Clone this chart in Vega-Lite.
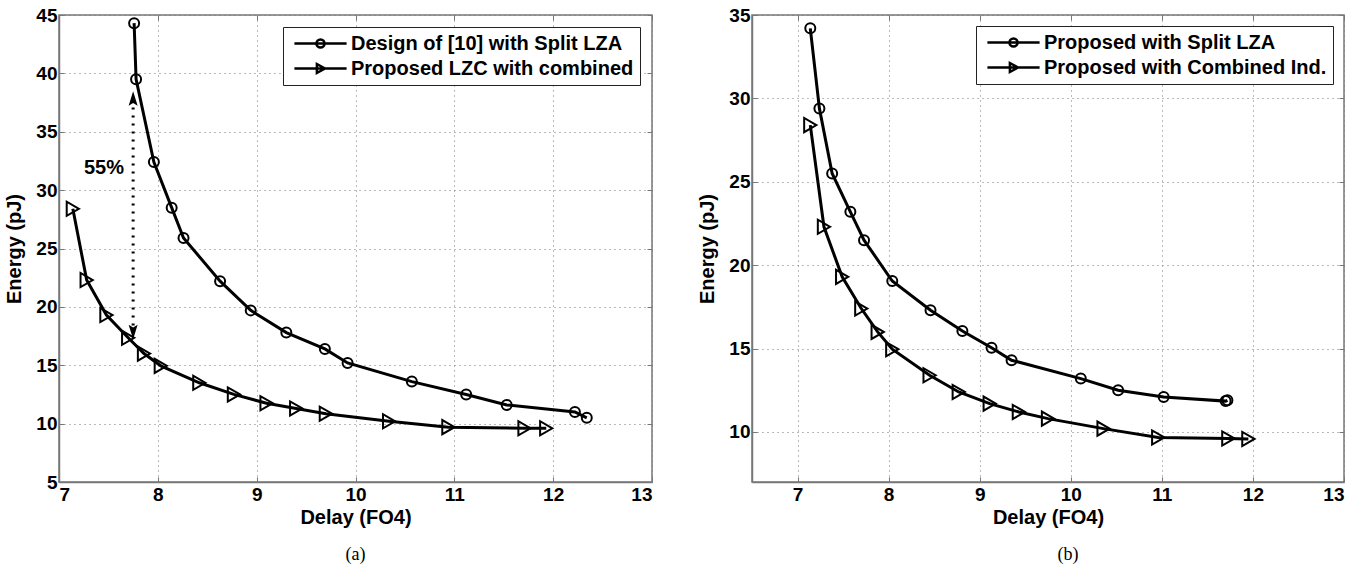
{
  "$schema": "https://vega.github.io/schema/vega-lite/v6.json",
  "padding": {"left": 4, "top": 5, "right": 5, "bottom": 5},
  "spacing": 43,
  "resolve": {"scale": {"shape": "independent", "size": "independent"}, "legend": {"shape": "independent"}},
  "datasets": {
    "a": [
      {"series": "Design of [10] with Split LZA", "delay": 7.76, "energy": 44.3},
      {"series": "Design of [10] with Split LZA", "delay": 7.78, "energy": 39.5},
      {"series": "Design of [10] with Split LZA", "delay": 7.96, "energy": 32.4},
      {"series": "Design of [10] with Split LZA", "delay": 8.14, "energy": 28.5},
      {"series": "Design of [10] with Split LZA", "delay": 8.26, "energy": 25.9},
      {"series": "Design of [10] with Split LZA", "delay": 8.63, "energy": 22.2},
      {"series": "Design of [10] with Split LZA", "delay": 8.94, "energy": 19.7},
      {"series": "Design of [10] with Split LZA", "delay": 9.30, "energy": 17.8},
      {"series": "Design of [10] with Split LZA", "delay": 9.69, "energy": 16.4},
      {"series": "Design of [10] with Split LZA", "delay": 9.92, "energy": 15.2},
      {"series": "Design of [10] with Split LZA", "delay": 10.57, "energy": 13.6},
      {"series": "Design of [10] with Split LZA", "delay": 11.12, "energy": 12.5},
      {"series": "Design of [10] with Split LZA", "delay": 11.53, "energy": 11.6},
      {"series": "Design of [10] with Split LZA", "delay": 12.22, "energy": 11.0},
      {"series": "Design of [10] with Split LZA", "delay": 12.34, "energy": 10.5},
      {"series": "Proposed LZC with combined", "delay": 7.14, "energy": 28.4},
      {"series": "Proposed LZC with combined", "delay": 7.28, "energy": 22.3},
      {"series": "Proposed LZC with combined", "delay": 7.48, "energy": 19.3},
      {"series": "Proposed LZC with combined", "delay": 7.70, "energy": 17.35},
      {"series": "Proposed LZC with combined", "delay": 7.86, "energy": 16.0},
      {"series": "Proposed LZC with combined", "delay": 8.03, "energy": 14.95},
      {"series": "Proposed LZC with combined", "delay": 8.42, "energy": 13.5},
      {"series": "Proposed LZC with combined", "delay": 8.77, "energy": 12.5},
      {"series": "Proposed LZC with combined", "delay": 9.10, "energy": 11.75},
      {"series": "Proposed LZC with combined", "delay": 9.40, "energy": 11.3},
      {"series": "Proposed LZC with combined", "delay": 9.70, "energy": 10.85},
      {"series": "Proposed LZC with combined", "delay": 10.34, "energy": 10.2},
      {"series": "Proposed LZC with combined", "delay": 10.94, "energy": 9.7},
      {"series": "Proposed LZC with combined", "delay": 11.71, "energy": 9.6},
      {"series": "Proposed LZC with combined", "delay": 11.93, "energy": 9.6}
    ],
    "b": [
      {"series": "Proposed with Split LZA", "delay": 7.14, "energy": 34.2},
      {"series": "Proposed with Split LZA", "delay": 7.24, "energy": 29.4},
      {"series": "Proposed with Split LZA", "delay": 7.38, "energy": 25.5},
      {"series": "Proposed with Split LZA", "delay": 7.58, "energy": 23.2},
      {"series": "Proposed with Split LZA", "delay": 7.73, "energy": 21.5},
      {"series": "Proposed with Split LZA", "delay": 8.04, "energy": 19.05},
      {"series": "Proposed with Split LZA", "delay": 8.46, "energy": 17.3},
      {"series": "Proposed with Split LZA", "delay": 8.81, "energy": 16.05},
      {"series": "Proposed with Split LZA", "delay": 9.13, "energy": 15.05},
      {"series": "Proposed with Split LZA", "delay": 9.35, "energy": 14.3},
      {"series": "Proposed with Split LZA", "delay": 10.11, "energy": 13.2},
      {"series": "Proposed with Split LZA", "delay": 10.52, "energy": 12.5},
      {"series": "Proposed with Split LZA", "delay": 11.02, "energy": 12.1},
      {"series": "Proposed with Split LZA", "delay": 11.70, "energy": 11.85},
      {"series": "Proposed with Split LZA", "delay": 11.72, "energy": 11.9},
      {"series": "Proposed with Combined Ind.", "delay": 7.14, "energy": 28.4},
      {"series": "Proposed with Combined Ind.", "delay": 7.29, "energy": 22.3},
      {"series": "Proposed with Combined Ind.", "delay": 7.49, "energy": 19.3},
      {"series": "Proposed with Combined Ind.", "delay": 7.70, "energy": 17.4},
      {"series": "Proposed with Combined Ind.", "delay": 7.88, "energy": 16.0},
      {"series": "Proposed with Combined Ind.", "delay": 8.04, "energy": 14.96},
      {"series": "Proposed with Combined Ind.", "delay": 8.45, "energy": 13.4},
      {"series": "Proposed with Combined Ind.", "delay": 8.77, "energy": 12.4},
      {"series": "Proposed with Combined Ind.", "delay": 9.11, "energy": 11.7},
      {"series": "Proposed with Combined Ind.", "delay": 9.43, "energy": 11.2},
      {"series": "Proposed with Combined Ind.", "delay": 9.75, "energy": 10.8},
      {"series": "Proposed with Combined Ind.", "delay": 10.36, "energy": 10.2},
      {"series": "Proposed with Combined Ind.", "delay": 10.96, "energy": 9.67},
      {"series": "Proposed with Combined Ind.", "delay": 11.73, "energy": 9.61},
      {"series": "Proposed with Combined Ind.", "delay": 11.95, "energy": 9.58}
    ]
  },
  "hconcat": [
    {
      "width": 593,
      "height": 467,
      "title": {"text": "(a)", "orient": "bottom", "font": "Liberation Serif", "fontWeight": "normal", "fontSize": 18, "color": "black", "offset": 19},
      "data": {"name": "a"},
      "resolve": {"axis": {"x": "independent", "y": "independent"}, "scale": {"shape": "independent"}},
      "layer": [
        {
          "mark": {"type": "line", "color": "black", "strokeWidth": 3},
          "encoding": {
            "x": {"field": "delay", "type": "quantitative", "scale": {"domain": [7, 13], "nice": false, "zero": false},
                  "axis": {"values": [7, 8, 9, 10, 11, 12, 13], "title": "Delay (FO4)", "grid": true, "titlePadding": 3}},
            "y": {"field": "energy", "type": "quantitative", "scale": {"domain": [5, 45], "nice": false, "zero": false},
                  "axis": {"values": [5, 10, 15, 20, 25, 30, 35, 40, 45], "title": "Energy (pJ)", "grid": true, "labelPadding": 7, "titlePadding": 11}},
            "detail": {"field": "series"}
          }
        },
        {
          "mark": {"type": "point", "opacity": 0},
          "encoding": {
            "x": {"field": "delay", "type": "quantitative", "axis": {"orient": "top", "values": [7, 8, 9, 10, 11, 12, 13], "labels": false, "domain": false, "grid": false, "title": null}},
            "y": {"field": "energy", "type": "quantitative", "axis": {"orient": "right", "values": [5, 10, 15, 20, 25, 30, 35, 40, 45], "labels": false, "domain": false, "grid": false, "title": null}},
            "shape": {"field": "series", "type": "nominal",
              "scale": {"domain": ["Design of [10] with Split LZA", "Proposed LZC with combined"], "range": ["M-2.9,0L2.9,0M-0.45,0A0.45,0.45 0 1,1 0.45,0A0.45,0.45 0 1,1 -0.45,0", "M-2.9,0L2.9,0M-0.4,-0.5L0.5,0L-0.4,0.5Z"]},
              "legend": {"title": null, "orient": "top-right", "offset": 12,
                "fillColor": "white", "strokeColor": "#222", "padding": 6,
                "labelFont": "Liberation Sans", "labelFontWeight": "bold", "labelFontSize": 20, "labelColor": "black", "labelLimit": 500,
                "symbolSize": 324, "symbolStrokeWidth": 2.5, "symbolStrokeColor": "black", "symbolFillColor": "transparent", "symbolOpacity": 1,
                "symbolOffset": 21, "labelOffset": 20, "rowPadding": 4}
            }
          }
        },
        {
          "mark": {"type": "point", "filled": false, "strokeWidth": 2, "color": "black", "opacity": 1},
          "encoding": {
            "x": {"field": "delay", "type": "quantitative", "axis": null},
            "y": {"field": "energy", "type": "quantitative", "axis": null},
            "shape": {"field": "series", "type": "nominal",
              "scale": {"domain": ["Design of [10] with Split LZA", "Proposed LZC with combined"], "range": ["circle", "triangle-right"]},
              "legend": null},
            "size": {"field": "series", "type": "nominal",
              "scale": {"domain": ["Design of [10] with Split LZA", "Proposed LZC with combined"], "range": [100, 200]},
              "legend": null}
          }
        },
        {
          "data": {"values": [{"delay": 7.75, "energy": 18.4, "energy2": 37.2}]},
          "mark": {"type": "rule", "color": "black", "strokeWidth": 3, "strokeDash": [2, 6]},
          "encoding": {
            "x": {"field": "delay", "type": "quantitative", "axis": null},
            "y": {"field": "energy", "type": "quantitative", "axis": null},
            "y2": {"field": "energy2"}
          }
        },
        {
          "data": {"values": [{"delay": 7.75, "energy": 37.7}]},
          "mark": {"type": "point", "shape": "M0,-1L0.5,0.6L0,0.3L-0.5,0.6Z", "filled": true, "color": "black", "size": 324, "opacity": 1},
          "encoding": {
            "x": {"field": "delay", "type": "quantitative", "axis": null},
            "y": {"field": "energy", "type": "quantitative", "axis": null}
          }
        },
        {
          "data": {"values": [{"delay": 7.75, "energy": 18.0}]},
          "mark": {"type": "point", "shape": "M0,1L0.5,-0.6L0,-0.3L-0.5,-0.6Z", "filled": true, "color": "black", "size": 324, "opacity": 1},
          "encoding": {
            "x": {"field": "delay", "type": "quantitative", "axis": null},
            "y": {"field": "energy", "type": "quantitative", "axis": null}
          }
        },
        {
          "data": {"values": [{"delay": 7.455, "energy": 31.9, "label": "55%"}]},
          "mark": {"type": "text", "font": "Liberation Sans", "fontWeight": "bold", "fontSize": 20, "color": "black"},
          "encoding": {
            "x": {"field": "delay", "type": "quantitative", "axis": null},
            "y": {"field": "energy", "type": "quantitative", "axis": null},
            "text": {"field": "label"}
          }
        }
      ]
    },
    {
      "width": 592,
      "height": 467,
      "title": {"text": "(b)", "orient": "bottom", "font": "Liberation Serif", "fontWeight": "normal", "fontSize": 18, "color": "black", "offset": 19, "dx": 20},
      "data": {"name": "b"},
      "resolve": {"axis": {"x": "independent", "y": "independent"}, "scale": {"shape": "independent"}},
      "layer": [
        {
          "mark": {"type": "line", "color": "black", "strokeWidth": 3},
          "encoding": {
            "x": {"field": "delay", "type": "quantitative", "scale": {"domain": [6.5, 13], "nice": false, "zero": false},
                  "axis": {"values": [7, 8, 9, 10, 11, 12, 13], "title": "Delay (FO4)", "grid": true, "titlePadding": 3}},
            "y": {"field": "energy", "type": "quantitative", "scale": {"domain": [7, 35], "nice": false, "zero": false},
                  "axis": {"values": [10, 15, 20, 25, 30, 35], "title": "Energy (pJ)", "grid": true, "labelPadding": 7, "titlePadding": 11}},
            "detail": {"field": "series"}
          }
        },
        {
          "mark": {"type": "point", "opacity": 0},
          "encoding": {
            "x": {"field": "delay", "type": "quantitative", "axis": {"orient": "top", "values": [7, 8, 9, 10, 11, 12, 13], "labels": false, "domain": false, "grid": false, "title": null}},
            "y": {"field": "energy", "type": "quantitative", "axis": {"orient": "right", "values": [10, 15, 20, 25, 30, 35], "labels": false, "domain": false, "grid": false, "title": null}},
            "shape": {"field": "series", "type": "nominal",
              "scale": {"domain": ["Proposed with Split LZA", "Proposed with Combined Ind."], "range": ["M-2.9,0L2.9,0M-0.45,0A0.45,0.45 0 1,1 0.45,0A0.45,0.45 0 1,1 -0.45,0", "M-2.9,0L2.9,0M-0.4,-0.5L0.5,0L-0.4,0.5Z"]},
              "legend": {"title": null, "orient": "top-right", "offset": 11,
                "fillColor": "white", "strokeColor": "#222", "padding": 6,
                "labelFont": "Liberation Sans", "labelFontWeight": "bold", "labelFontSize": 20, "labelColor": "black", "labelLimit": 500,
                "symbolSize": 324, "symbolStrokeWidth": 2.5, "symbolStrokeColor": "black", "symbolFillColor": "transparent", "symbolOpacity": 1,
                "symbolOffset": 21, "labelOffset": 20, "rowPadding": 4}
            }
          }
        },
        {
          "mark": {"type": "point", "filled": false, "strokeWidth": 2, "color": "black", "opacity": 1},
          "encoding": {
            "x": {"field": "delay", "type": "quantitative", "axis": null},
            "y": {"field": "energy", "type": "quantitative", "axis": null},
            "shape": {"field": "series", "type": "nominal",
              "scale": {"domain": ["Proposed with Split LZA", "Proposed with Combined Ind."], "range": ["circle", "triangle-right"]},
              "legend": null},
            "size": {"field": "series", "type": "nominal",
              "scale": {"domain": ["Proposed with Split LZA", "Proposed with Combined Ind."], "range": [100, 200]},
              "legend": null}
          }
        }
      ]
    }
  ],
  "config": {
    "font": "Liberation Sans",
    "view": {"stroke": "#777", "strokeWidth": 1.5},
    "axis": {
      "labelFont": "Liberation Sans", "labelFontWeight": "bold", "labelFontSize": 19, "labelColor": "black", "labelPadding": 8,
      "titleFont": "Liberation Sans", "titleFontWeight": "bold", "titleFontSize": 20, "titleColor": "black",
      "domainColor": "#777", "domainWidth": 1.5, "tickColor": "#777", "tickSize": -5, "tickWidth": 1,
      "gridDash": [1, 4], "gridColor": "#777", "gridWidth": 1, "gridOpacity": 1
    }
  }
}
